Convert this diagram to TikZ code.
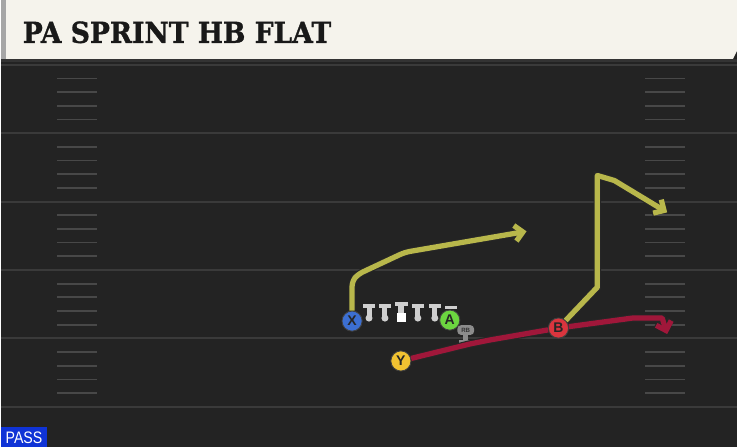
\documentclass[tikz,border=0pt]{standalone}
\usepackage{fontspec}
\usepackage{tikz}
\usetikzlibrary{arrows.meta}
\setsansfont{Liberation Sans}
\newfontfamily\slabfont[FakeBold=1.2]{DejaVu Serif Bold}
\definecolor{field}{HTML}{232323}
\definecolor{yardline}{HTML}{3A3A3A}
\definecolor{hashline}{HTML}{484848}
\definecolor{paper}{HTML}{F5F3EC}
\definecolor{yroute}{HTML}{B8B74B}
\definecolor{rroute}{HTML}{A0173A}
\definecolor{xblue}{HTML}{3C6FD2}
\definecolor{agreen}{HTML}{6CD640}
\definecolor{bred}{HTML}{DA353E}
\definecolor{yyellow}{HTML}{F1C231}
\definecolor{linegray}{HTML}{CFCFCF}
\definecolor{passblue}{HTML}{0F33D6}
\tikzset{
  player/.style={circle, draw=black!75, line width=0.5pt, minimum size=11.5pt, inner sep=0pt,
    font=\sffamily\bfseries\fontsize{8}{8}\selectfont, text=black!85},
  route/.style={line width=3pt, line join=round,
    preaction={draw=black!85, line width=4.3pt}},
  tip/.style={-{Straight Barb[length=4.5pt, width=9pt]}},
  lineman/.style={fill=linegray}
}

\begin{document}
\begin{tikzpicture}[x=0.02cm, y=-0.02cm, line width=1pt]
% field
\fill[field] (0,0) rectangle (738,448) ;
\foreach \i in {0,...,5} {
  \draw[yardline, line width=1.2pt] (0,65+68.6*\i) -- (738,65+68.6*\i) ;
}
\foreach \i in {0,...,4} {
  \foreach \k in {1,...,4} {
    \draw[hashline, line width=1pt] (56,65+68.6*\i+13.7*\k) -- (96,65+68.6*\i+13.7*\k) ;
    \draw[hashline, line width=1pt] (646,65+68.6*\i+13.7*\k) -- (686,65+68.6*\i+13.7*\k) ;
  }
}
% header
\fill[black!80] (0,59) rectangle (738,62) ;
\fill[paper] (0,0) -- (738,0) -- (738,51) -- (734,59) -- (0,59) -- cycle ;
\fill[black!35] (0,0) rectangle (5,59) ;
\node[anchor=base west, inner sep=0pt, xscale=0.92, font=\slabfont\fontsize{16.5}{16.5}\selectfont, text=black!90] (title) at (21,43) {PA SPRINT HB FLAT} ;
% pass tag
\fill[passblue] (0,428) rectangle (46,448) ;
\node[inner sep=0pt, xscale=0.85, font=\sffamily\fontsize{9.5}{9.5}\selectfont, text=white] (pass) at (23,439) {PASS} ;
% line
\foreach \x in {369,385,418,435} {
  \fill[lineman] (\x-6,304.5) rectangle (\x+6,308.5) ;
  \fill[lineman] (\x-2.5,308) rectangle (\x+2.5,318) ;
  \fill[lineman] (\x,319) circle (2pt) ;
}
\fill[lineman] (395,302.5) rectangle (408,306.5) ;
\fill[lineman] (398.5,306) rectangle (404.5,314) ;
\fill[white] (397,314) rectangle (406,322.5) ;
\fill[lineman] (445,307) rectangle (457,310) ;
% running back
\fill[black!45] (463.5,335) rectangle (468.5,341) ;
\fill[black!45] (459,340.5) rectangle (473,344.5) ;
\node[fill=black!45, rounded corners=2pt, minimum width=9.5pt, minimum height=5.5pt, inner sep=0pt,
  font=\sffamily\bfseries\fontsize{3.5}{3.5}\selectfont, text=black!80] (RB) at (466,331) {RB} ;
% players
\node[player, fill=xblue] (X) at (352,322) {X} ;
\node[player, fill=agreen] (A) at (450,321) {A} ;
\node[player, fill=bred] (B) at (559,329) {B} ;
\node[player, fill=yyellow] (Y) at (401,362) {Y} ;
% routes
\coordinate (X1) at (352,282) ;
\coordinate (X2) at (358,275) ;
\coordinate (X3) at (405,253) ;
\coordinate (X4) at (527,232) ;
\draw[route, yroute, tip, rounded corners=3pt] (X) -- (X1) -- (X2) -- (X3) -- (X4) ;
\coordinate (B1) at (598,288) ;
\coordinate (B2) at (598,176) ;
\coordinate (B3) at (615,181) ;
\coordinate (B4) at (668,213) ;
\draw[route, yroute, tip] (B) -- (B1) -- (B2) -- (B3) -- (B4) ;
\coordinate (Y1) at (470,345) ;
\coordinate (Y2) at (490,341) ;
\draw[route, rroute] (Y) -- (Y1) -- (Y2) -- (B) ;
\coordinate (Y3) at (633,319) ;
\coordinate (Y4) at (663,319) ;
\coordinate (Y5) at (668,335) ;
\draw[route, rroute, tip] (B) -- (Y3) -- (Y4) -- (Y5) ;
\end{tikzpicture}
\end{document}
